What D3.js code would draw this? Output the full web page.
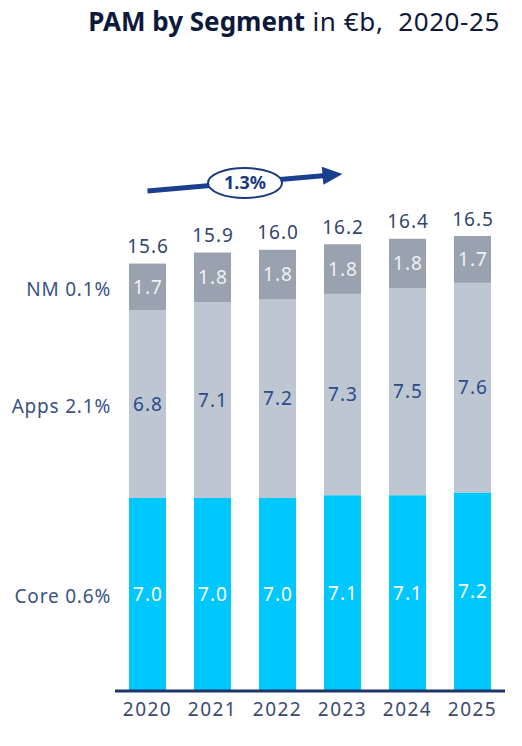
<!DOCTYPE html>
<html><head><meta charset="utf-8">
<script src="https://cdn.jsdelivr.net/npm/d3@7"></script>
<style>body{margin:0;background:#fff;} svg{display:block;font-family:"Noto Sans","Open Sans",sans-serif;}</style>
</head><body><div id="chart"></div>
<script>
const years = ["2020","2021","2022","2023","2024","2025"];
const core = [7.0,7.0,7.0,7.1,7.1,7.2];
const apps = [6.8,7.1,7.2,7.3,7.5,7.6];
const nm = [1.7,1.8,1.8,1.8,1.8,1.7];
const totals = ["15.6","15.9","16.0","16.2","16.4","16.5"];
const segNames = ["Core 0.6%","Apps 2.1%","NM 0.1%"];
const cagr = "1.3%";

const W=522,H=746;
const svg=d3.select("#chart").append("svg").attr("width",W).attr("height",H);
const x=d3.scaleBand().domain(years).range([115,505]).paddingInner(0.43).paddingOuter(0.215);
const y=d3.scaleLinear().domain([0,16.5]).range([691,236]);

const data=years.map((yr,i)=>({year:yr,core:core[i],apps:apps[i],nm:nm[i],total:totals[i]}));
const keys=["core","apps","nm"];
const colors={core:"#00c8ff",apps:"#bec7d1",nm:"#99a2ae"};
const txtColors={core:"#ffffff",apps:"#2c4a8c",nm:"#eef1f4"};
const stack=d3.stack().keys(keys)(data);

stack.forEach(layer=>{
  const k=layer.key;
  const g=svg.append("g");
  g.selectAll("rect").data(layer).join("rect")
    .attr("x",d=>x(d.data.year)).attr("width",x.bandwidth())
    .attr("y",d=>y(d[1])).attr("height",d=>y(d[0])-y(d[1]))
    .attr("fill",colors[k]);
  g.selectAll("text").data(layer).join("text")
    .attr("x",d=>x(d.data.year)+x.bandwidth()/2+0.5)
    .attr("y",d=>(y(d[0])+y(d[1]))/2)
    .attr("dy","0.35em").attr("text-anchor","middle")
    .attr("font-size",19).attr("letter-spacing","1px").attr("fill",txtColors[k])
    .text(d=>d.data[k].toFixed(1));
});

// totals
svg.append("g").selectAll("text").data(data).join("text")
  .attr("x",d=>x(d.year)+x.bandwidth()/2+0.5)
  .attr("y",d=>y(d.core+d.apps+d.nm)-17)
  .attr("dy","0.35em").attr("text-anchor","middle")
  .attr("font-size",19).attr("letter-spacing","1px").attr("fill","#34466e")
  .text(d=>d.total);

// segment labels on left (at middle of the 2020 segment)
const first=stack.map(l=>l[0]);
svg.append("g").selectAll("text").data(segNames).join("text")
  .attr("x",111)
  .attr("y",(d,i)=>(y(first[i][0])+y(first[i][1]))/2+2)
  .attr("dy","0.35em").attr("text-anchor","end")
  .attr("font-size",19).attr("letter-spacing","0.8px").attr("fill","#3a5282")
  .text(d=>d);

// axis
const xAxis=svg.append("g").attr("transform","translate(0,691)")
  .call(d3.axisBottom(x).tickSize(0).tickPadding(12));
xAxis.select(".domain").attr("stroke","#1f3468").attr("stroke-width",3).attr("d","M115,0H505");
xAxis.selectAll("text").attr("font-size",19).attr("fill","#3a4a6e")
  .attr("font-family","'Noto Sans','Open Sans',sans-serif").attr("letter-spacing","1.5px");

// CAGR arrow
const ax1=x("2020")+x.bandwidth()/2, ax2=x("2023")+x.bandwidth()/2;
const ay1=191, ay2=174;
svg.append("line").attr("x1",ax1).attr("y1",ay1).attr("x2",ax2-14).attr("y2",ay2+1.2)
  .attr("stroke","#1a3f8f").attr("stroke-width",5);
const ang=Math.atan2(ay2-ay1,ax2-ax1);
const hx=ax2, hy=ay2, L=20, Wd=9;
const bx=hx-L*Math.cos(ang), by=hy-L*Math.sin(ang);
svg.append("path").attr("d",`M${hx},${hy}L${bx-Wd*Math.sin(ang)},${by+Wd*Math.cos(ang)}L${bx+Wd*Math.sin(ang)},${by-Wd*Math.cos(ang)}Z`)
  .attr("fill","#1a3f8f");
const ex=245, ey=183;
svg.append("ellipse").attr("cx",ex).attr("cy",ey).attr("rx",37).attr("ry",15)
  .attr("fill","#fff").attr("stroke","#1a3a80").attr("stroke-width",2);
svg.append("text").attr("x",ex).attr("y",ey).attr("dy","0.36em").attr("text-anchor","middle")
  .attr("font-size",18).attr("font-weight","bold").attr("fill","#1a3a80").text(cagr);

// title
const t=svg.append("text").attr("x",500).attr("y",31).attr("text-anchor","end")
  .attr("font-size",26).attr("fill","#0e1a3c").style("white-space","pre");
t.append("tspan").attr("font-weight","bold").text("PAM by Segment");
t.append("tspan").attr("font-weight","normal").attr("letter-spacing","0.6px").text(" in €b,  2020-25");
</script></body></html>
